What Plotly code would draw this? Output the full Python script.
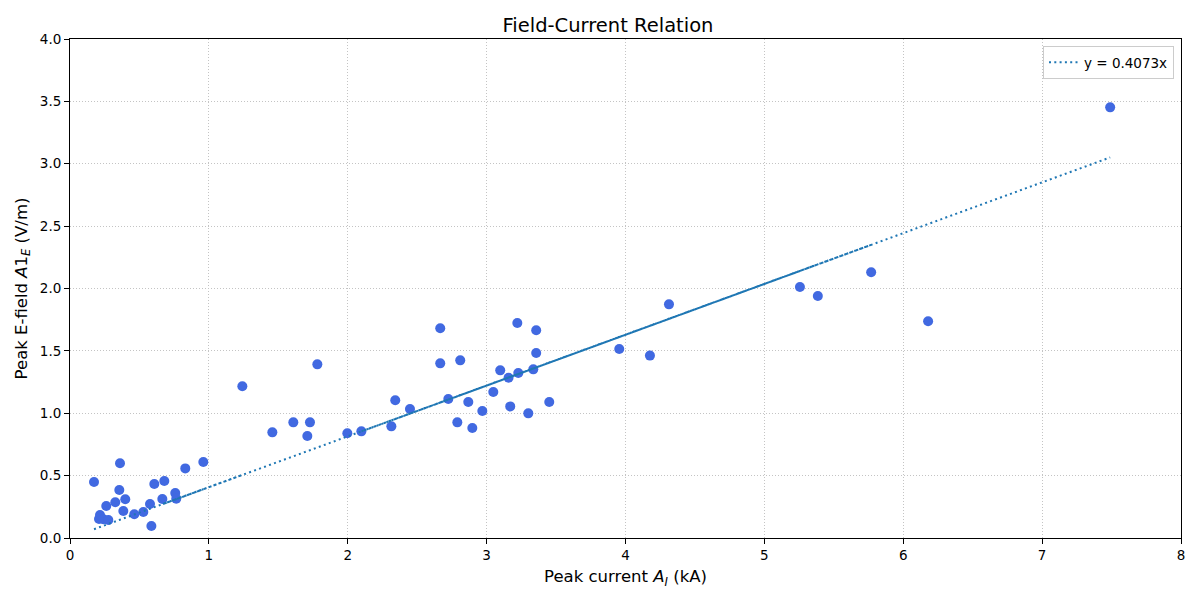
import plotly.graph_objects as go

# Peak current A_I (kA)
peak_current = [
    0.173, 0.209, 0.216, 0.240, 0.261, 0.276, 0.326, 0.355, 0.360, 0.384,
    0.398, 0.463, 0.528, 0.576, 0.586, 0.607, 1.241, 0.665, 0.960, 0.679,
    0.830, 0.758, 0.765, 1.457, 1.608, 1.709, 1.728, 1.781, 1.997, 5.769,
    2.098, 2.314, 5.385, 2.342, 2.448, 4.313, 2.666, 2.666, 5.256, 2.724,
    2.789, 4.176, 2.810, 2.868, 3.955, 2.897, 2.969, 3.048, 3.098, 3.158,
    3.170, 3.221, 3.228, 3.300, 3.336, 3.357, 3.357, 3.451, 6.179, 7.490,
]
# Peak E-field A1_E (V/m)
peak_field = [
    0.449, 0.152, 0.184, 0.150, 0.257, 0.144, 0.286, 0.385, 0.599, 0.216,
    0.310, 0.190, 0.208, 0.272, 0.096, 0.433, 1.216, 0.313, 0.609, 0.457,
    0.558, 0.360, 0.315, 0.847, 0.927, 0.818, 0.927, 1.392, 0.839, 2.130,
    0.855, 0.895, 1.940, 1.104, 1.034, 1.873, 1.681, 1.400, 2.012, 1.114,
    0.927, 1.462, 1.424, 1.090, 1.515, 0.882, 1.018, 1.170, 1.344, 1.285,
    1.055, 1.723, 1.322, 0.999, 1.352, 1.665, 1.483, 1.090, 1.737, 3.452,
]
slope = 0.4073
fit_label = "y = 0.4073x"

x_ticks = [0, 1, 2, 3, 4, 5, 6, 7, 8]
x_tick_labels = ["0", "1", "2", "3", "4", "5", "6", "7", "8"]
y_ticks = [0.0, 0.5, 1.0, 1.5, 2.0, 2.5, 3.0, 3.5, 4.0]
y_tick_labels = ["0.0", "0.5", "1.0", "1.5", "2.0", "2.5", "3.0", "3.5", "4.0"]

# fitted line evaluated at each data x (in data order, like the original)
fit_y = [slope * v for v in peak_current]

FONT = "DejaVu Sans, Liberation Sans, sans-serif"

fig = go.Figure()
fig.add_trace(go.Scatter(
    x=peak_current, y=peak_field, mode="markers",
    marker=dict(color="#4169E1", size=10, line=dict(width=0)),
    showlegend=False, hoverinfo="x+y",
))
fig.add_trace(go.Scatter(
    x=peak_current, y=fit_y, mode="lines",
    line=dict(color="#1f77b4", width=2, dash="2px,3.3px", simplify=False),
    name=fit_label, showlegend=True,
))

axis_common = dict(
    showline=True, linecolor="black", linewidth=1, mirror=True,
    ticks="outside", ticklen=5, tickwidth=1, tickcolor="black",
    showgrid=True, gridcolor="#c4c4c4", gridwidth=1, griddash="1.2px,1.8px",
    zeroline=False, tickfont=dict(size=13.5, color="black", family=FONT),
)

fig.update_layout(
    width=1200, height=600,
    paper_bgcolor="white", plot_bgcolor="white",
    margin=dict(l=62, r=27, t=31, b=70),
    font=dict(family=FONT, color="black"),
    title=dict(text="Field-Current Relation", x=0.5, xanchor="center",
               y=0.972, yanchor="middle", font=dict(size=19.5, family=FONT)),
    xaxis=dict(range=[0, 8], tickvals=x_ticks, ticktext=x_tick_labels,
               title=dict(text="Peak current <i>A</i><sub><i>I</i></sub> (kA)",
                          font=dict(size=16.5, family=FONT), standoff=8),
               **axis_common),
    yaxis=dict(range=[0, 4], tickvals=y_ticks, ticktext=y_tick_labels,
               title=dict(text="Peak E-field <i>A</i>1<sub><i>E</i></sub> (V/m)",
                          font=dict(size=16.5, family=FONT), standoff=8),
               **axis_common),
    legend=dict(x=0.9937, y=0.986, xanchor="right", yanchor="top",
                bgcolor="rgba(255,255,255,0.8)", bordercolor="#cccccc",
                borderwidth=1, font=dict(size=13.5, family=FONT),
                itemwidth=30),
)

fig.write_html("out.html")
